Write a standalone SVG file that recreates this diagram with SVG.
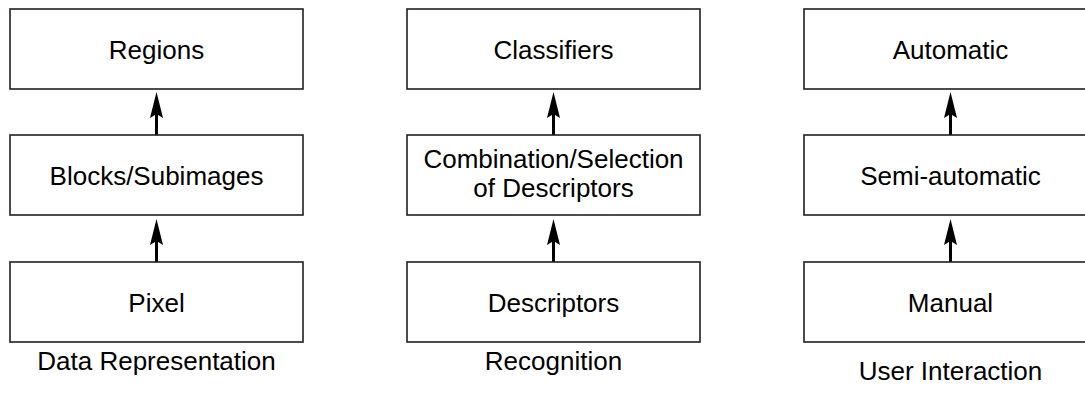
<svg xmlns="http://www.w3.org/2000/svg" width="1085" height="398" viewBox="0 0 1085 398">
<defs>
<style>
.box{fill:#fff;stroke:#231f20;stroke-width:1.6}
.t{font-family:"Liberation Sans",Arial,sans-serif;font-size:26px;fill:#000;text-anchor:middle}
.c{stroke:#000;stroke-width:3;fill:none;marker-end:url(#ah)}
</style>
<marker id="ah" markerUnits="userSpaceOnUse" markerWidth="28" markerHeight="14" viewBox="-5 -7 28 14" refX="0" refY="0" orient="auto">
<path d="M22,0 L-4,-6.5 L0,0 L-4,6.5 Z" fill="#000"/>
</marker>
</defs>
<rect width="1085" height="398" fill="#fff"/>
<g id="connectors">
<path class="c" d="M156.5,262 V241"/>
<path class="c" d="M156.5,135 V114"/>
<path class="c" d="M553.5,262 V241"/>
<path class="c" d="M553.5,135 V114"/>
<path class="c" d="M950.5,262 V241"/>
<path class="c" d="M950.5,135 V114"/>
</g>
<g id="regions"><rect class="box" x="10" y="9" width="293" height="80"/><text class="t" x="156.5" y="58.5">Regions</text></g>
<g id="blocks"><rect class="box" x="10" y="135" width="293" height="80"/><text class="t" x="156.5" y="184.5">Blocks/Subimages</text></g>
<g id="pixel"><rect class="box" x="10" y="262" width="293" height="80"/><text class="t" x="156.5" y="311.5">Pixel</text></g>
<g id="classifiers"><rect class="box" x="407" y="9" width="293" height="80"/><text class="t" x="553.5" y="58.5">Classifiers</text></g>
<g id="combination"><rect class="box" x="407" y="135" width="293" height="80"/><text class="t" x="553.5" y="168">Combination/Selection</text><text class="t" x="553.5" y="197">of Descriptors</text></g>
<g id="descriptors"><rect class="box" x="407" y="262" width="293" height="80"/><text class="t" x="553.5" y="311.5">Descriptors</text></g>
<g id="automatic"><rect class="box" x="804" y="9" width="293" height="80"/><text class="t" x="950.5" y="58.5">Automatic</text></g>
<g id="semiautomatic"><rect class="box" x="804" y="135" width="293" height="80"/><text class="t" x="950.5" y="184.5">Semi-automatic</text></g>
<g id="manual"><rect class="box" x="804" y="262" width="293" height="80"/><text class="t" x="950.5" y="311.5">Manual</text></g>
<g id="captions">
<text class="t" x="156.5" y="370">Data Representation</text>
<text class="t" x="553.5" y="370">Recognition</text>
<text class="t" x="950.5" y="380">User Interaction</text>
</g>
</svg>
